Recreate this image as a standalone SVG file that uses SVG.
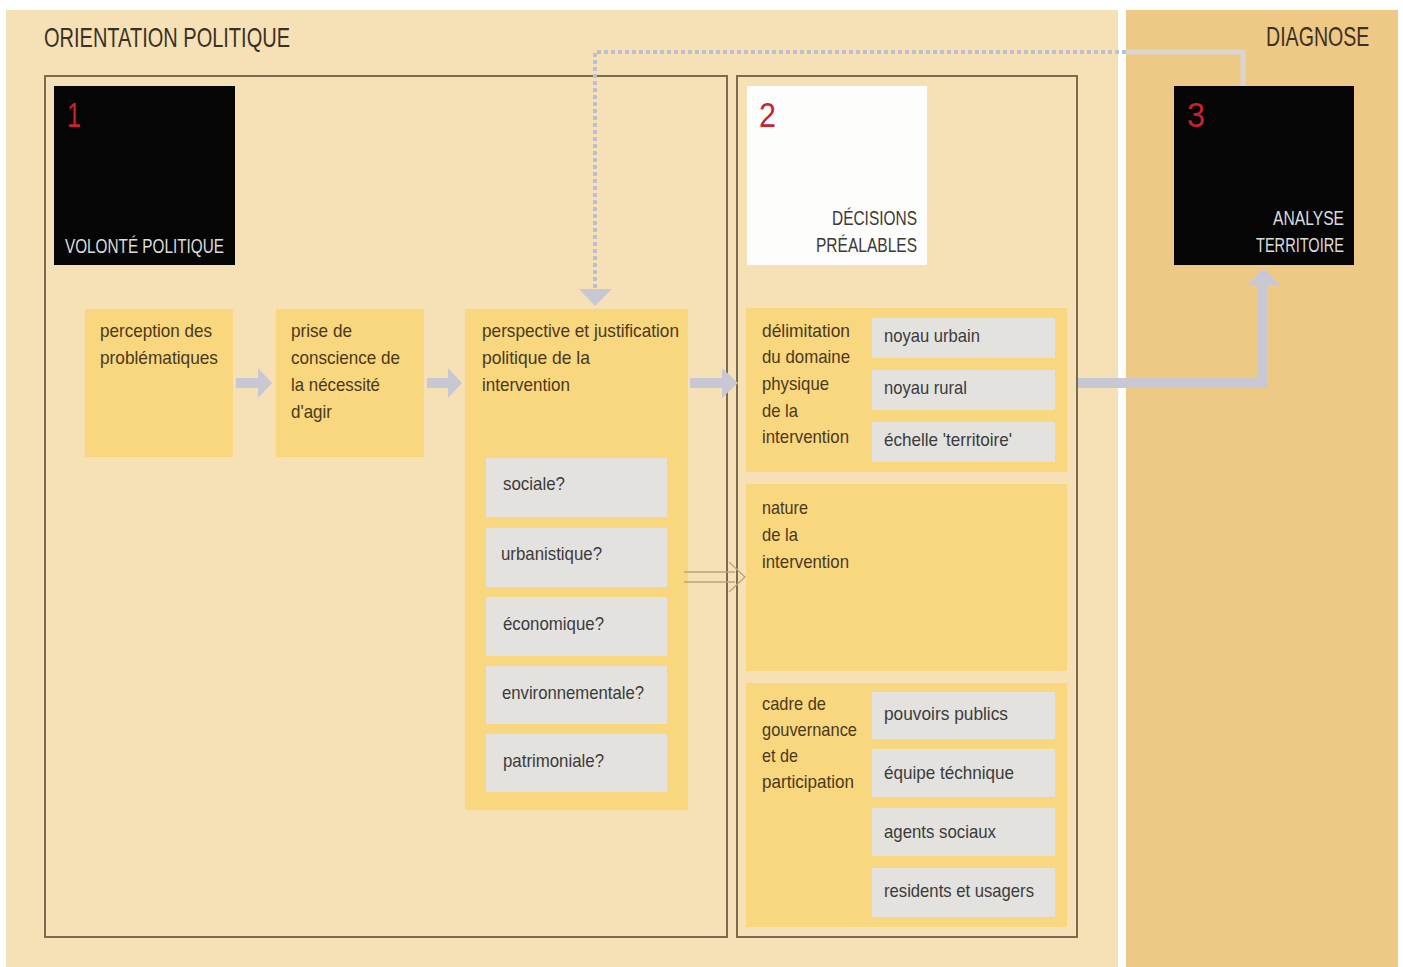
<svg xmlns="http://www.w3.org/2000/svg" width="1403" height="967" viewBox="0 0 1403 967">
<style>
text{font-family:"Liberation Sans Narrow","Liberation Sans",Arial,sans-serif}
.title{font-size:28px;fill:#3b3124}
.num{font-size:35px;fill:#c8232f}
.lblW{font-size:21px;fill:#dcdcdc}
.lblD{font-size:21px;fill:#3a3a3a}
.t{font-size:19px;fill:#4a391c}
.g{font-size:19px;fill:#3b3b3b}
.yel{fill:#f9d77f}
.gry{fill:#e4e2de}
.frame{fill:none;stroke:#7c6a4e;stroke-width:2}
.arr{fill:#c7c8d4}
</style>
<rect x="0" y="0" width="1403" height="967" fill="#ffffff"/>
<rect x="6" y="10" width="1112" height="957" fill="#f6e1b6"/>
<rect x="1126" y="10" width="272" height="957" fill="#eec985"/>

<g id="orientation-politique">
<text class="title" x="44" y="47" textLength="246" lengthAdjust="spacingAndGlyphs">ORIENTATION POLITIQUE</text>
<rect class="frame" x="45" y="76" width="682" height="861"/>
</g>
<g id="decisions-frame">
<rect class="frame" x="737" y="76" width="340" height="861"/>
</g>
<g id="diagnose">
<text class="title" transform="translate(1266,46) scale(0.7,1)" x="0" y="0">DIAGNOSE</text>
</g>

<g id="node1">
<rect x="54" y="86" width="181" height="179" fill="#050505"/>
<text class="num" x="67" y="127" textLength="14" lengthAdjust="spacingAndGlyphs">1</text>
<text class="lblW" x="65" y="253" textLength="159" lengthAdjust="spacingAndGlyphs">VOLONTÉ POLITIQUE</text>
</g>
<g id="node2">
<rect x="747" y="86" width="180" height="179" fill="#fdfdfc"/>
<text class="num" x="759" y="127" textLength="17" lengthAdjust="spacingAndGlyphs">2</text>
<text class="lblD" x="832" y="225" textLength="85" lengthAdjust="spacingAndGlyphs">DÉCISIONS</text>
<text class="lblD" x="816" y="252" textLength="101" lengthAdjust="spacingAndGlyphs">PRÉALABLES</text>
</g>
<g id="node3">
<rect x="1174" y="86" width="180" height="179" fill="#050505"/>
<text class="num" x="1187" y="127" textLength="18" lengthAdjust="spacingAndGlyphs" fill="#b0303a">3</text>
<text class="lblW" x="1273" y="225" textLength="71" lengthAdjust="spacingAndGlyphs">ANALYSE</text>
<text class="lblW" x="1256" y="252" textLength="88" lengthAdjust="spacingAndGlyphs">TERRITOIRE</text>
</g>

<g id="perception">
<rect class="yel" x="85" y="309" width="148" height="148"/>
<text class="t" x="100" y="337" textLength="112" lengthAdjust="spacingAndGlyphs">perception des</text>
<text class="t" x="100" y="364" textLength="118" lengthAdjust="spacingAndGlyphs">problématiques</text>
</g>
<g id="prise-de-conscience">
<rect class="yel" x="276" y="309" width="148" height="148"/>
<text class="t" x="291" y="337" textLength="61" lengthAdjust="spacingAndGlyphs">prise de</text>
<text class="t" x="291" y="364" textLength="109" lengthAdjust="spacingAndGlyphs">conscience de</text>
<text class="t" x="291" y="391" textLength="89" lengthAdjust="spacingAndGlyphs">la nécessité</text>
<text class="t" x="291" y="418" textLength="41" lengthAdjust="spacingAndGlyphs">d'agir</text>
</g>
<g id="perspective">
<rect class="yel" x="465" y="309" width="223" height="501"/>
<text class="t" x="482" y="337" textLength="197" lengthAdjust="spacingAndGlyphs">perspective et justification</text>
<text class="t" x="482" y="364" textLength="108" lengthAdjust="spacingAndGlyphs">politique de la</text>
<text class="t" x="482" y="391" textLength="88" lengthAdjust="spacingAndGlyphs">intervention</text>
<rect class="gry" x="486" y="458" width="181" height="59"/>
<text class="g" x="503" y="490" textLength="62" lengthAdjust="spacingAndGlyphs">sociale?</text>
<rect class="gry" x="486" y="528" width="181" height="59"/>
<text class="g" x="501" y="560" textLength="101" lengthAdjust="spacingAndGlyphs">urbanistique?</text>
<rect class="gry" x="486" y="597" width="181" height="59"/>
<text class="g" x="503" y="630" textLength="101" lengthAdjust="spacingAndGlyphs">économique?</text>
<rect class="gry" x="486" y="666" width="181" height="58"/>
<text class="g" x="502" y="699" textLength="142" lengthAdjust="spacingAndGlyphs">environnementale?</text>
<rect class="gry" x="486" y="734" width="181" height="58"/>
<text class="g" x="503" y="767" textLength="101" lengthAdjust="spacingAndGlyphs">patrimoniale?</text>
</g>

<g id="delimitation">
<rect class="yel" x="746" y="308" width="321" height="164"/>
<text class="t" x="762" y="337" textLength="88" lengthAdjust="spacingAndGlyphs">délimitation</text>
<text class="t" x="762" y="363" textLength="88" lengthAdjust="spacingAndGlyphs">du domaine</text>
<text class="t" x="762" y="390" textLength="67" lengthAdjust="spacingAndGlyphs">physique</text>
<text class="t" x="762" y="417" textLength="36" lengthAdjust="spacingAndGlyphs">de la</text>
<text class="t" x="762" y="443" textLength="87" lengthAdjust="spacingAndGlyphs">intervention</text>
<rect class="gry" x="872" y="318" width="183" height="40"/>
<text class="g" x="884" y="342" textLength="96" lengthAdjust="spacingAndGlyphs">noyau urbain</text>
<rect class="gry" x="872" y="370" width="183" height="40"/>
<text class="g" x="884" y="394" textLength="83" lengthAdjust="spacingAndGlyphs">noyau rural</text>
<rect class="gry" x="872" y="422" width="183" height="40"/>
<text class="g" x="884" y="446" textLength="128" lengthAdjust="spacingAndGlyphs">échelle 'territoire'</text>
</g>
<g id="nature">
<rect class="yel" x="746" y="484" width="321" height="187"/>
<text class="t" x="762" y="514" textLength="46" lengthAdjust="spacingAndGlyphs">nature</text>
<text class="t" x="762" y="541" textLength="36" lengthAdjust="spacingAndGlyphs">de la</text>
<text class="t" x="762" y="568" textLength="87" lengthAdjust="spacingAndGlyphs">intervention</text>
</g>
<g id="cadre">
<rect class="yel" x="746" y="683" width="321" height="244"/>
<text class="t" x="762" y="710" textLength="64" lengthAdjust="spacingAndGlyphs">cadre de</text>
<text class="t" x="762" y="736" textLength="95" lengthAdjust="spacingAndGlyphs">gouvernance</text>
<text class="t" x="762" y="762" textLength="36" lengthAdjust="spacingAndGlyphs">et de</text>
<text class="t" x="762" y="788" textLength="92" lengthAdjust="spacingAndGlyphs">participation</text>
<rect class="gry" x="872" y="692" width="183" height="47"/>
<text class="g" x="884" y="720" textLength="124" lengthAdjust="spacingAndGlyphs">pouvoirs publics</text>
<rect class="gry" x="872" y="749" width="183" height="48"/>
<text class="g" x="884" y="779" textLength="130" lengthAdjust="spacingAndGlyphs">équipe téchnique</text>
<rect class="gry" x="872" y="808" width="183" height="48"/>
<text class="g" x="884" y="838" textLength="112" lengthAdjust="spacingAndGlyphs">agents sociaux</text>
<rect class="gry" x="872" y="868" width="183" height="49"/>
<text class="g" x="884" y="897" textLength="150" lengthAdjust="spacingAndGlyphs">residents et usagers</text>
</g>

<g id="connectors">
<path class="arr" d="M236,378 H258 V368 L272,383 L258,398 V388 H236 Z"/>
<path class="arr" d="M427,378 H448 V368 L462,383 L448,398 V388 H427 Z"/>
<path class="arr" d="M690,378 H722 V368 L738,383 L722,398 V388 H690 Z"/>
<path class="arr" d="M1078,378 H1257 V285 H1248 L1264,268 L1280,285 H1267 V388 H1078 Z"/>
<path d="M1126,52 H1243 V86" fill="none" stroke="#d9d6d0" stroke-width="5"/>
<path d="M1126,52 H595 V290" fill="none" stroke="#bcbfd0" stroke-width="4" stroke-dasharray="4 3"/>
<path class="arr" d="M579,289 H612 L595,306 Z"/>
<line x1="684" y1="572" x2="735" y2="572" stroke="#b8a47e" stroke-width="1.3"/>
<line x1="684" y1="582" x2="735" y2="582" stroke="#b8a47e" stroke-width="1.3"/>
<path d="M729,562 L745,577 L729,592" fill="none" stroke="#b8a47e" stroke-width="1.3"/>
</g>
</svg>
